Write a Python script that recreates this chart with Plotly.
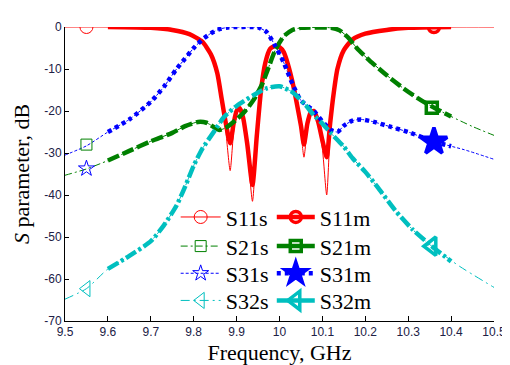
import plotly.graph_objects as go

# ---------------- data ----------------
f11s = [9.50, 9.60, 9.70, 9.75, 9.79, 9.82, 9.84, 9.855, 9.865, 9.875, 9.885, 9.893, 9.900, 9.907,
        9.915, 9.925, 9.937, 9.947, 9.957, 9.967, 9.978, 9.99, 10.0, 10.01, 10.02, 10.03, 10.04,
        10.05, 10.057, 10.065, 10.072, 10.08, 10.09, 10.10, 10.110, 10.118, 10.126, 10.135,
        10.15, 10.17, 10.20, 10.25, 10.30, 10.40, 10.50]
s11s = [0, 0, -0.2, -0.7, -1.7, -3.5, -6.5, -11, -17, -25, -34.2, -25, -20.5, -19.3,
        -21.5, -29, -41.5, -27, -15, -8.5, -5.2, -4.5, -4.8, -6, -9, -13, -18,
        -25, -31, -24, -20.5, -20, -23, -29, -40, -25, -16, -10,
        -5.5, -3, -1.6, -0.7, -0.2, 0, 0]

f11m = [9.60, 9.70, 9.75, 9.79, 9.82, 9.84, 9.855, 9.865, 9.875, 9.885, 9.893, 9.900, 9.907,
        9.915, 9.925, 9.937, 9.947, 9.957, 9.967, 9.978, 9.99, 10.0, 10.01, 10.02, 10.03, 10.04,
        10.05, 10.057, 10.065, 10.072, 10.08, 10.09, 10.10, 10.110, 10.118, 10.126, 10.135,
        10.15, 10.17, 10.20, 10.25, 10.30, 10.40]
s11m = [0, -0.2, -0.7, -1.7, -3.5, -6.5, -11, -17, -23, -27.7, -23, -20, -19.3,
        -21.5, -28, -37.6, -26, -15, -8.5, -5.2, -4.5, -4.8, -6, -9, -13, -18,
        -23.5, -28, -23, -20.5, -20, -22.5, -27, -31, -23, -16, -10,
        -5.5, -3, -1.6, -0.7, -0.2, 0]

f21s = [9.50, 9.55, 9.60, 9.65, 9.70, 9.75, 9.78, 9.81, 9.83, 9.85, 9.86, 9.875, 9.90, 9.92,
        9.94, 9.96, 9.975, 9.99, 10.01, 10.03, 10.05, 10.12, 10.14, 10.16, 10.18, 10.21, 10.25,
        10.29, 10.32, 10.36, 10.40, 10.45, 10.50]
s21s = [-35.3, -33.8, -31.8, -29.5, -27.2, -25.2, -23.6, -22.6, -22.8, -24.0, -24.5, -24.0, -22.0, -20.0,
        -17.3, -13.5, -9.5, -5.5, -2.2, -0.7, -0.2, -0.2, -0.8, -2.5, -5.0, -8.0, -11.5,
        -14.7, -16.8, -19.2, -21.3, -23.7, -25.8]
f21m = [9.60, 9.65, 9.70, 9.75, 9.78, 9.81, 9.83, 9.85, 9.86, 9.875, 9.90, 9.92,
        9.94, 9.96, 9.975, 9.99, 10.01, 10.03, 10.05, 10.12, 10.14, 10.16, 10.18, 10.21, 10.25,
        10.29, 10.32, 10.36, 10.40]
s21m = [-31.8, -29.5, -27.2, -25.2, -23.6, -22.6, -22.8, -24.0, -24.5, -24.0, -22.0, -20.0,
        -17.3, -13.5, -9.5, -5.5, -2.2, -0.7, -0.2, -0.2, -0.8, -2.5, -5.0, -8.0, -11.5,
        -14.7, -16.8, -19.2, -21.3]

f31s = [9.50, 9.55, 9.60, 9.65, 9.70, 9.73, 9.76, 9.78, 9.80, 9.82, 9.84, 9.86, 9.88, 9.95,
        9.97, 9.99, 10.01, 10.03, 10.05, 10.08, 10.10, 10.12, 10.135, 10.15, 10.17, 10.19, 10.22,
        10.26, 10.30, 10.36, 10.43, 10.50]
s31s = [-30.5, -28.3, -25.0, -22.0, -17.8, -14.3, -10.0, -7.5, -5.0, -3.0, -1.5, -0.5, -0.1, -0.1,
        -1.2, -4.5, -8.5, -13.5, -17.5, -20.0, -22.5, -24.5, -25.0, -23.5, -22.3, -22.0, -22.6,
        -23.8, -25.0, -27.3, -29.2, -31.5]
f31m = [9.60, 9.65, 9.70, 9.73, 9.76, 9.78, 9.80, 9.82, 9.84, 9.86, 9.88, 9.95,
        9.97, 9.99, 10.01, 10.03, 10.05, 10.08, 10.10, 10.12, 10.135, 10.15, 10.17, 10.19, 10.22,
        10.26, 10.30, 10.36, 10.40]
s31m = [-25.0, -22.0, -17.8, -14.3, -10.0, -7.5, -5.0, -3.0, -1.5, -0.5, -0.1, -0.1,
        -1.2, -4.5, -8.5, -13.5, -17.5, -20.0, -22.5, -24.5, -25.0, -23.5, -22.3, -22.0, -22.6,
        -23.8, -25.0, -27.3, -28.4]

f32s = [9.50, 9.55, 9.60, 9.65, 9.70, 9.73, 9.76, 9.78, 9.80, 9.82, 9.85, 9.87, 9.90, 9.94,
        9.97, 10.00, 10.03, 10.06, 10.08, 10.10, 10.12, 10.15, 10.17, 10.20, 10.23, 10.27, 10.31,
        10.355, 10.42, 10.50]
s32s = [-64.8, -62.3, -57.6, -54.5, -51.0, -47.3, -42.5, -38.0, -33.0, -29.0, -24.5, -21.5, -18.8, -16.2,
        -14.6, -14.1, -15.5, -18.5, -21.0, -23.0, -25.3, -28.5, -31.2, -34.5, -38.3, -43.7, -48.2,
        -52.2, -57.0, -62.0]
f32m = [9.60, 9.65, 9.70, 9.73, 9.76, 9.78, 9.80, 9.82, 9.85, 9.87, 9.90, 9.94,
        9.97, 10.00, 10.03, 10.06, 10.08, 10.10, 10.12, 10.15, 10.17, 10.20, 10.23, 10.27, 10.31,
        10.355, 10.40]
s32m = [-57.6, -54.5, -51.0, -47.3, -42.5, -38.0, -33.0, -29.0, -24.5, -21.5, -18.8, -16.2,
        -14.6, -14.1, -15.5, -18.5, -21.0, -23.0, -25.3, -28.5, -31.2, -34.5, -38.3, -43.7, -48.2,
        -52.2, -55.8]

# single marker positions
mk_s_f = [9.55, 9.55, 9.55, 9.55]
mk_s_y = [0, -28.0, -33.7, -62.3]
mk_m_f = [10.36, 10.355, 10.36, 10.355]
mk_m_y = [0, -19.2, -27.3, -52.2]

names_s = ["S11s", "S21s", "S31s", "S32s"]
names_m = ["S11m", "S21m", "S31m", "S32m"]

x_ticks = [9.5, 9.6, 9.7, 9.8, 9.9, 10.0, 10.1, 10.2, 10.3, 10.4, 10.5]
x_text = ["9.5", "9.6", "9.7", "9.8", "9.9", "10", "10.1", "10.2", "10.3", "10.4", "10.5"]
y_ticks = [0, -10, -20, -30, -40, -50, -60, -70]
y_text = ["0", "-10", "-20", "-30", "-40", "-50", "-60", "-70"]

# ---------------- styles ----------------
RED, GREEN, BLUE, CYAN = "#ff0000", "#008000", "#0000ff", "#00bfbf"
colors = [RED, GREEN, BLUE, CYAN]
dash_s = ["solid", "7px,3px,2px,3px", "3px,2px", "9px,4px,2px,4px"]
dash_m = ["solid", "12px,4px", "4px,4px", "12px,3px,3px,3px"]
sym_s = ["circle-open", "square-open", "star-open", "triangle-left-open"]
sym_m = ["circle-open", "square-open", "star", "triangle-left-open"]
size_s = [13, 11, 12, 14]
size_m = [11, 11, 20, 16]

fs_list = [(f11s, s11s), (f21s, s21s), (f31s, s31s), (f32s, s32s)]
fm_list = [(f11m, s11m), (f21m, s21m), (f31m, s31m), (f32m, s32m)]

fig = go.Figure()

for i in range(4):
    fx, fy = fs_list[i]
    fig.add_trace(go.Scatter(x=fx, y=fy, mode="lines", showlegend=False,
                             line=dict(color=colors[i], width=1, dash=dash_s[i], shape="spline", smoothing=0.6)))
for i in range(4):
    fx, fy = fm_list[i]
    fig.add_trace(go.Scatter(x=fx, y=fy, mode="lines", showlegend=False,
                             line=dict(color=colors[i], width=4.5, dash=dash_m[i], shape="spline", smoothing=0.6)))

# markers
for i in range(4):
    fig.add_trace(go.Scatter(x=[mk_s_f[i]], y=[mk_s_y[i]], mode="markers", showlegend=False,
                             marker=dict(symbol=sym_s[i], size=size_s[i], color=colors[i], line=dict(width=1, color=colors[i]))))
    fig.add_trace(go.Scatter(x=[mk_m_f[i]], y=[mk_m_y[i]], mode="markers", showlegend=False,
                             marker=dict(symbol=sym_m[i], size=size_m[i], color=colors[i], line=dict(width=3.5, color=colors[i]))))

# legend entries: one small legend per entry so rows can be placed exactly
serif = "Liberation Serif"
sans = "Liberation Sans"
row_px = [213, 243, 271, 299]          # row centres in pixels (top of figure = 0)
plot_top, plot_bot = 17, 320
legend_layout = {}
for i in range(4):
    ls = "legend" if i == 0 else f"legend{i + 1}"
    lm = f"legend{i + 5}"
    fig.add_trace(go.Scatter(x=[None], y=[None], mode="lines+markers", name=names_s[i], legend=ls,
                             line=dict(color=colors[i], width=1, dash=dash_s[i]),
                             marker=dict(symbol=sym_s[i], size=size_s[i], color=colors[i], line=dict(width=1, color=colors[i]))))
    fig.add_trace(go.Scatter(x=[None], y=[None], mode="lines+markers", name=names_m[i], legend=lm,
                             line=dict(color=colors[i], width=4.5, dash="solid" if i != 2 else dash_m[i]),
                             marker=dict(symbol=sym_m[i], size=min(size_m[i], 16), color=colors[i], line=dict(width=3.5, color=colors[i]))))
    ypap = (plot_bot - row_px[i]) / (plot_bot - plot_top)
    common = dict(font=dict(family=serif, size=22, color="black"), bgcolor="rgba(0,0,0,0)",
                  yanchor="middle", xanchor="left", orientation="v", y=ypap)
    legend_layout[ls] = dict(x=0.258, itemwidth=40, **common)
    legend_layout[lm] = dict(x=0.482, itemwidth=38, **common)

fig.update_layout(
    width=510, height=365,
    margin=dict(l=57, r=14, t=17, b=45),
    paper_bgcolor="white", plot_bgcolor="white",
    showlegend=True,
    xaxis=dict(range=[9.5, 10.5], tickvals=x_ticks, ticktext=x_text, ticks="inside", ticklen=5,
               tickcolor="black", showline=True, linecolor="black", linewidth=1, showgrid=False, zeroline=False,
               ticklabeloverflow="allow",
               tickfont=dict(family=sans, size=12, color="#202045"),
               title=dict(text="Frequency, GHz", font=dict(family=serif, size=22, color="black"), standoff=6)),
    yaxis=dict(range=[-70, 0], tickvals=y_ticks, ticktext=y_text, ticks="inside", ticklen=4,
               tickcolor="black", showline=True, linecolor="black", linewidth=1, showgrid=False, zeroline=False,
               tickfont=dict(family=sans, size=12, color="#202045"),
               title=dict(text="<i>S</i> parameter, dB", font=dict(family=serif, size=22, color="black"), standoff=8)),
    **legend_layout,
)

fig.write_html("out.html")
